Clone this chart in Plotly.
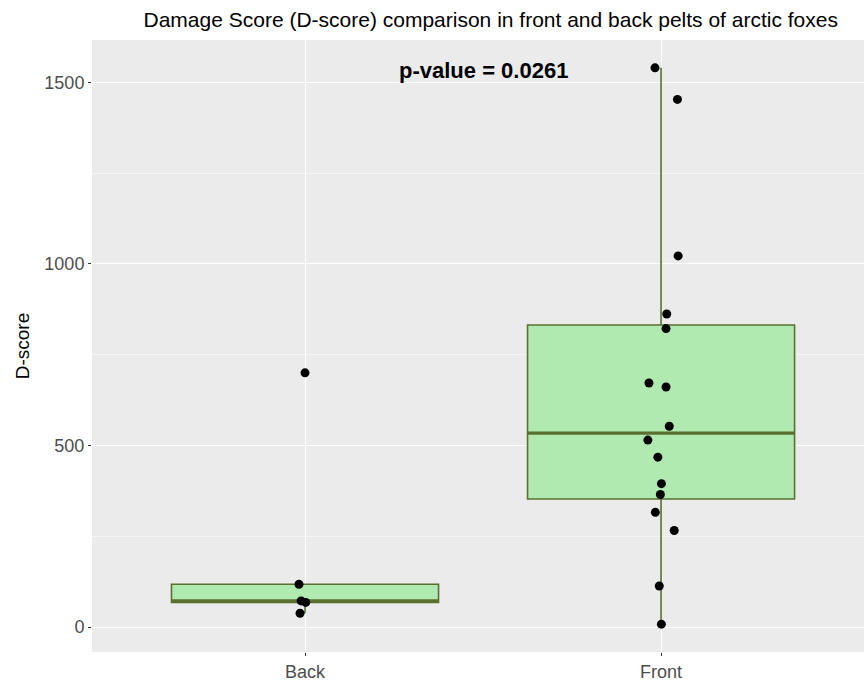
import numpy as np
import plotly.graph_objects as go

# D-score per pelt, grouped by body region
categories = ["Back", "Front"]
back_scores = [700, 118, 72, 68, 38]
front_scores = [1540, 1453, 1022, 862, 822, 672, 661, 553, 515, 468,
                395, 365, 316, 266, 113, 8]

# horizontal jitter (in category units) applied to each plotted point
back_jitter = [0.000, -0.017, -0.011, 0.002, -0.014]
front_jitter = [-0.017, 0.046, 0.048, 0.016, 0.014, -0.034, 0.014, 0.023,
                -0.037, -0.009, 0.001, -0.002, -0.016, 0.037, -0.005, 0.001]

p_label = "p-value = 0.0261"

FILL = "#B0EAB0"
EDGE = "#5B6F31"
BOX_W = 0.75


def box_stats(vals):
    v = np.asarray(vals, dtype=float)
    q1, med, q3 = np.percentile(v, [25, 50, 75])
    iqr = q3 - q1
    lo = v[v >= q1 - 1.5 * iqr].min()
    hi = v[v <= q3 + 1.5 * iqr].max()
    return q1, med, q3, lo, hi


fig = go.Figure()

groups = [(1, back_scores, back_jitter), (2, front_scores, front_jitter)]
for pos, vals, jit in groups:
    q1, med, q3, lo, hi = box_stats(vals)
    fig.add_trace(go.Box(
        x=[pos], q1=[q1], median=[med], q3=[q3],
        lowerfence=[lo], upperfence=[hi],
        width=BOX_W, fillcolor=FILL, boxpoints=False,
        line=dict(color=EDGE, width=1.6), whiskerwidth=0,
        showlegend=False, hoverinfo="skip",
    ))
    # heavier median bar
    fig.add_trace(go.Scatter(
        x=[pos - BOX_W / 2, pos + BOX_W / 2], y=[med, med], mode="lines",
        line=dict(color=EDGE, width=3.2), showlegend=False, hoverinfo="skip",
    ))

for pos, vals, jit in groups:
    fig.add_trace(go.Scatter(
        x=[pos + j for j in jit], y=vals, mode="markers",
        marker=dict(color="black", size=9, line=dict(width=0)),
        showlegend=False,
    ))

all_vals = np.array(back_scores + front_scores, dtype=float)
pad = 0.05 * (all_vals.max() - all_vals.min())
y_range = [all_vals.min() - pad, all_vals.max() + pad]

fig.add_annotation(
    x=1.5, y=1533, text="<b>" + p_label + "</b>", showarrow=False,
    font=dict(family="Liberation Sans, Arial", size=22, color="black"),
    xanchor="center", yanchor="middle",
)

fig.update_layout(
    width=864, height=683,
    margin=dict(l=92, r=0, t=40, b=31),
    paper_bgcolor="white", plot_bgcolor="#EBEBEB",
    font=dict(family="Liberation Sans, Arial", color="#4D4D4D"),
    title=dict(
        text="Damage Score (D-score) comparison in front and back pelts of arctic foxes",
        x=0.568, xanchor="center", y=0.971, yanchor="middle",
        font=dict(size=21, color="black"),
    ),
)

fig.update_xaxes(
    range=[0.4017, 2.570], tickvals=[1, 2], ticktext=categories,
    showgrid=True, gridcolor="white", gridwidth=1.2,
    zeroline=False, ticks="outside", ticklen=3, tickcolor="#333333",
    tickfont=dict(size=18, color="#4D4D4D"), showline=False,
)
fig.update_yaxes(
    range=y_range, tickvals=[0, 500, 1000, 1500],
    showgrid=True, gridcolor="white", gridwidth=1.2,
    minor=dict(tickvals=[250, 750, 1250], showgrid=True,
               gridcolor="#F5F5F5", gridwidth=0.6),
    zeroline=False, ticks="outside", ticklen=3, tickcolor="#333333",
    tickfont=dict(size=18, color="#4D4D4D"), showline=False,
    title=dict(text="D-score", font=dict(size=19, color="black"), standoff=9),
)

fig.write_html("out.html")
